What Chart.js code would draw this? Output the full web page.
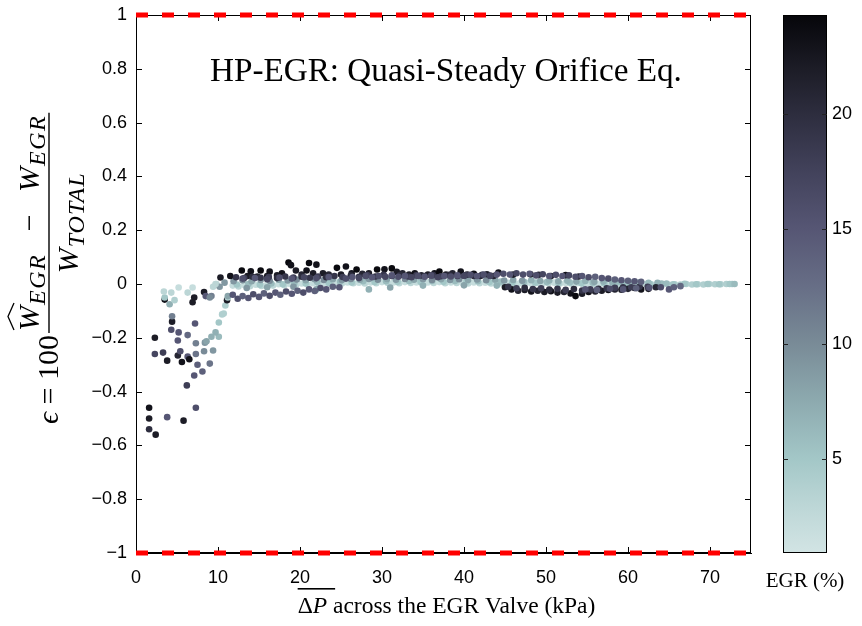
<!DOCTYPE html>
<html>
<head>
<meta charset="utf-8">
<script src="https://cdn.jsdelivr.net/npm/chart.js@4.4.1/dist/chart.umd.min.js"></script>
<style>
  html, body { margin: 0; padding: 0; background: #fff; }
  canvas { display: block; }
</style>
</head>
<body>
<canvas id="chart" width="862" height="626"></canvas>
<script>
// each point: [mean dP across valve (kPa), error (%), EGR (%)]
const lowFlow = [
  [1.6,-0.46,23],[1.6,-0.50,22],[1.6,-0.54,20],[2.4,-0.56,22],[3.8,-0.495,15],[5.8,-0.508,22],
  [7.3,-0.46,16],[6.2,-0.377,18],[2.3,-0.20,22],[2.3,-0.26,17],[3.3,-0.255,18],[3.8,-0.285,22],
  [5.1,-0.266,21],[5.6,-0.29,23],[5.4,-0.25,16],[6.3,-0.27,15],[6.5,-0.28,23],[7.3,-0.26,12],
  [7.5,-0.30,14],[8.1,-0.325,14],[7.1,-0.34,15],[9.0,-0.296,12],[8.3,-0.25,10],[9.4,-0.247,9],
  [7.3,-0.22,11],[8.4,-0.218,9],[8.6,-0.213,8],[9.2,-0.196,7],[10.1,-0.196,6],[6.3,-0.19,13],
  [5.1,-0.21,15],[5.2,-0.18,15],[4.3,-0.17,16],[4.4,-0.14,22],[4.4,-0.12,11],[7.2,-0.147,15],
  [9.7,-0.18,7],[10.1,-0.143,5],[10.5,-0.113,4],[10.7,-0.11,4],[10.9,-0.08,4],[11.1,-0.06,22],
  [11.2,-0.05,4],[11.2,-0.045,8],[3.5,-0.058,23],[3.5,-0.05,5],[4.1,-0.075,7],[4.7,-0.06,4],
  [3.4,-0.028,3],[4.3,-0.032,3],[5.2,-0.013,2],[6.3,-0.032,3],[6.9,-0.013,2],[7.1,-0.05,22],
  [6.9,-0.068,22],[8.3,-0.03,22],[8.5,-0.045,15],[9.2,-0.045,11],[9.0,-0.05,10],[9.4,-0.01,3],
  [9.8,0.0,3],[10.2,-0.01,9],[10.3,0.024,22],[10.8,0.005,9],[9.7,0.0,3]
];

const purpleLow = [
  [11.8,-0.040,15],[12.4,-0.055,16],[13.0,-0.045,14],[13.7,-0.052,15],[14.3,-0.038,16],[15.0,-0.048,15],
  [15.6,-0.035,14],[16.3,-0.044,16],[17.0,-0.032,15],[17.6,-0.040,14],[18.3,-0.028,16],[19.0,-0.036,15],
  [19.7,-0.025,14],[20.4,-0.032,16],[21.1,-0.020,15],[21.8,-0.026,14],[22.5,-0.015,16],[23.2,-0.020,15],
  [24.0,-0.010,14],[24.8,-0.012,15],
  [54.8,-0.020,15],[56.2,-0.022,14],[57.8,-0.018,16],[59.4,-0.020,15],[61.0,-0.016,14],[62.6,-0.014,15],
  [64.0,-0.012,16],[65.0,-0.020,15],[65.6,-0.012,14],[66.4,-0.008,13]
];

const purpleHigh = [
  [13.0,0.020,16],[14.5,0.022,15],[16.0,0.018,17],[17.5,0.024,16],[19.0,0.020,15],[20.5,0.025,17],
  [22.0,0.022,16],[23.5,0.026,15],[25.6,0.020,16],[26.4,0.026,15],[27.2,0.022,17],[28.0,0.030,16],
  [28.8,0.025,15],[29.6,0.030,16],[30.4,0.027,17],[31.2,0.032,15],[32.0,0.027,16],[32.8,0.030,15],
  [33.6,0.025,17],[34.4,0.030,16],[35.2,0.027,15],[36.0,0.031,16],[36.8,0.025,17],[37.6,0.030,15],
  [38.4,0.028,16],[39.2,0.032,15],[40.0,0.030,17],[40.8,0.034,16],[41.6,0.030,15],[42.4,0.035,16],
  [43.2,0.030,17],[44.0,0.035,15],[44.8,0.038,16],[45.6,0.035,15],[46.4,0.040,17],[47.2,0.035,16],
  [48.0,0.038,15],[48.8,0.032,16],[49.6,0.036,17],[50.4,0.030,15],[51.2,0.034,16],[52.0,0.030,15],
  [52.8,0.032,17],[53.6,0.027,16],[54.4,0.030,15],[55.2,0.025,16],[56.0,0.027,14],[56.8,0.022,15],
  [57.6,0.020,16],[58.4,0.017,14],[59.2,0.014,15],[60.0,0.012,14],[60.8,0.010,15],[61.6,0.008,14]
];

const darkPurple = [
  [12.2,0.025,19],[13.2,0.022,18],[14.2,0.027,20],[15.2,0.023,19],[16.2,0.026,18],[17.2,0.022,20],
  [18.2,0.028,19],[19.2,0.024,18],[20.2,0.027,20],[21.2,0.023,19],[22.2,0.028,18],[23.2,0.025,20],
  [24.2,0.030,19],[25.2,0.026,18],[26.2,0.031,20],[27.2,0.027,19],[28.2,0.033,18],[29.2,0.028,20],
  [30.2,0.034,19],[31.2,0.030,18],[32.2,0.033,20],[33.2,0.028,19],[34.2,0.032,18],[35.2,0.030,20],
  [36.2,0.033,19],[37.2,0.029,18],[38.2,0.034,20],[39.2,0.030,19],[40.2,0.033,18],[41.2,0.030,20],
  [42.2,0.034,19],[43.2,0.031,18],
  [45.4,-0.010,19],[46.4,-0.016,18],[47.4,-0.014,20],[48.4,-0.019,19],[49.4,-0.016,18],[50.4,-0.021,20],
  [51.4,-0.018,19],[52.4,-0.022,18],[53.4,-0.019,20],[54.4,-0.024,19],[55.4,-0.020,18],[56.4,-0.018,20],
  [57.4,-0.016,19],[58.4,-0.014,18],[59.4,-0.012,19],[60.4,-0.012,18],[61.4,-0.010,19],[62.4,-0.010,18]
];

const darkHigh = [
  [11.5,0.030,23],[12.9,0.050,24],[13.6,0.030,22],[14.0,0.047,23],[14.8,0.028,21],[15.2,0.050,24],
  [16.0,0.030,22],[16.3,0.046,23],[17.2,0.032,22],[17.8,0.040,23],[18.6,0.080,24],[18.9,0.070,23],
  [19.5,0.050,22],[20.2,0.035,21],[20.8,0.050,23],[21.1,0.078,24],[21.6,0.040,22],[22.0,0.072,23],
  [22.8,0.040,22],[23.5,0.035,21],[24.5,0.060,24],[25.0,0.035,22],[25.6,0.065,23],[26.3,0.040,22],
  [26.9,0.054,24],[27.6,0.038,21],[28.4,0.040,22],[29.4,0.054,24],[30.3,0.055,23],[31.2,0.058,24],
  [31.8,0.045,22],[32.5,0.040,21],[33.3,0.035,22],[34.0,0.040,23],[34.8,0.032,21],[35.6,0.035,22],
  [36.4,0.040,23],[37.0,0.046,24],[37.8,0.035,22],[38.6,0.040,21],[39.6,0.046,23],[40.4,0.035,22],
  [41.2,0.038,23],[42.0,0.030,21],[42.8,0.036,22],[43.6,0.030,21],[44.2,0.043,23],[46.0,0.035,22],
  [48.1,0.036,23],[49.1,0.034,21],[50.6,0.030,22],[52.4,0.033,23],[54.0,0.028,21]
];

const darkLow = [
  [45.0,-0.012,22],[45.8,-0.020,23],[46.6,-0.025,21],[47.4,-0.022,22],[48.2,-0.028,23],[49.0,-0.025,21],
  [49.8,-0.030,22],[50.6,-0.027,23],[51.4,-0.032,22],[52.2,-0.030,21],[53.0,-0.035,23],[53.6,-0.045,24],
  [54.4,-0.036,22],[55.2,-0.030,23],[56.0,-0.028,21],[56.8,-0.025,22],[57.6,-0.022,23],[58.4,-0.020,21],
  [59.2,-0.021,22],[60.0,-0.018,21],[60.8,-0.015,22],[61.6,-0.020,23],[62.5,-0.018,22],[63.4,-0.012,21]
];

const grayMid = [
  [11.9,0.010,9],[13.0,0.014,10],[14.1,0.010,8],[15.2,0.015,9],[16.3,0.012,10],[17.4,0.016,8],
  [18.5,0.013,9],[19.6,0.017,10],[20.7,0.014,8],[21.8,0.018,9],[22.9,0.015,10],[24.0,0.018,8],
  [25.1,0.015,9],[26.2,0.019,10],[27.3,0.016,8],[28.4,0.019,9],[29.5,0.016,10],[30.6,0.019,8],
  [31.7,0.016,9],[32.8,0.019,10],[33.9,0.016,8],[35.0,0.018,9],[36.1,0.015,10],[37.2,0.018,8],
  [38.3,0.015,9],[39.4,0.018,10],[40.5,0.015,8],[41.6,0.017,9],[42.7,0.014,10],[43.8,0.016,8],
  [44.9,0.013,9],[46.0,0.015,8],[47.1,0.012,9],[48.2,0.014,7],[49.3,0.011,8],[50.4,0.013,7],
  [51.5,0.010,8],[52.6,0.012,7],[53.7,0.009,8],[54.8,0.011,7],[55.9,0.008,8],[57.0,0.009,7],
  [58.1,0.006,7],[59.2,0.007,6],[60.3,0.005,7],[61.4,0.006,6],[62.5,0.004,6],[63.6,0.004,7],
  [64.7,0.002,6],
  [13.5,-0.015,9],[16.0,-0.012,8],[19.2,-0.010,9],[22.0,-0.020,8],[28.4,-0.020,7],[31.0,-0.013,8],
  [35.0,-0.006,7],[40.0,-0.005,8],[44.0,-0.006,7]
];

const lightMid = [
  [12.3,-0.002,5],[13.7,0.000,6],[15.1,-0.003,5],[16.5,0.002,6],[17.9,-0.001,5],[19.3,0.004,6],
  [20.7,0.002,5],[22.1,0.007,6],[23.5,0.004,5],[24.9,0.009,6],[26.3,0.006,5],[27.7,0.010,6],
  [29.1,0.007,5],[30.5,0.010,6],[31.9,0.008,5],[33.3,0.011,6],[34.7,0.008,5],[36.1,0.011,6],
  [37.5,0.008,5],[38.9,0.011,6],[40.3,0.008,5],[41.7,0.010,6],[43.1,0.007,5],[44.5,0.009,6],
  [45.9,0.006,5],[47.3,0.008,6],[48.7,0.005,5],[50.1,0.007,6],[51.5,0.004,5],[52.9,0.006,6],
  [54.3,0.003,5],[55.7,0.005,6],[57.1,0.002,5],[58.5,0.004,6],[59.9,0.001,5],[61.3,0.003,6],
  [62.7,0.000,5],[64.1,0.002,6],[65.5,-0.001,5],[66.9,0.001,5],[68.3,-0.001,5],[69.7,0.000,5],
  [71.1,-0.001,5],[72.4,0.000,5],[73.0,0.000,6]
];

const lightLow = [
  [11.8,-0.006,2],[12.5,-0.009,3],[13.2,-0.004,2],[13.9,-0.008,3],[14.6,-0.003,2],[15.3,-0.007,3],
  [16.0,-0.002,2],[16.7,-0.006,3],[17.4,-0.001,2],[18.1,-0.005,3],[18.8,0.000,2],[19.5,-0.004,3],
  [20.2,0.002,2],[20.9,-0.002,3],[21.6,0.003,2],[22.3,0.000,3],[23.0,0.004,2],[23.7,0.001,3],
  [24.4,0.005,2],[25.1,0.002,3],[25.8,0.006,2],[26.5,0.003,3],[27.2,0.005,2],[27.9,0.002,3],
  [28.6,0.006,2],[29.3,0.003,3],[30.0,0.007,2],[30.7,0.004,3],[31.4,0.006,2],[32.1,0.003,3],
  [32.8,0.007,2],[33.5,0.004,3],[34.2,0.006,2],[34.9,0.003,3],[35.6,0.006,2],[36.3,0.004,3],
  [37.0,0.007,2],[37.7,0.003,3],[38.4,0.006,2],[39.1,0.004,3],[39.8,0.005,2],[40.5,0.002,3],
  [41.2,0.006,2],[41.9,0.003,3],[42.6,0.005,2],[43.3,0.002,3],[44.0,0.004,2],[44.7,0.001,3],
  [45.4,0.004,2],[46.1,0.001,3],[46.8,0.003,2],[47.5,0.005,3],[48.2,0.002,2],[48.9,0.004,3],
  [49.6,0.001,2],[50.3,0.003,3],[51.0,0.005,2],[51.7,0.002,3],[52.4,0.004,2],[53.1,0.001,3],
  [53.8,0.003,2],[54.5,0.000,3],[55.2,0.002,2],[55.9,-0.001,3],[56.6,0.002,2],[57.3,0.000,3],
  [58.0,0.001,2],[58.7,-0.002,3],[59.4,0.001,2],[60.1,-0.001,3],[60.8,0.000,3],[61.5,-0.002,3],
  [62.2,0.000,3],[62.9,-0.002,3],[63.6,0.000,3],[64.3,-0.001,3],[65.0,-0.003,3],[65.7,-0.001,4],
  [66.4,-0.002,4],[67.1,0.000,4],[67.8,-0.002,4],[68.5,-0.001,4],[69.2,-0.002,4],[69.9,0.000,4],
  [70.6,-0.001,4],[71.3,-0.001,4],[72.0,0.000,4],[72.7,0.000,5]
];

const xTicks = [0, 10, 20, 30, 40, 50, 60, 70];
const yTicks = [-1, -0.8, -0.6, -0.4, -0.2, 0, 0.2, 0.4, 0.6, 0.8, 1];
const cbTicks = [5, 10, 15, 20];
const egrMin = 0.9, egrMax = 24.3;
const boundLines = [-1, 1];

// colour map of the colour bar, EGR value -> rgb
const cmapStops = [
  [0.9, [210, 228, 228]], [3, [188, 214, 214]], [5, [163, 199, 199]], [7.5, [141, 170, 175]],
  [10, [121, 139, 151]], [12.5, [103, 110, 134]], [15, [86, 86, 116]], [17.5, [66, 66, 91]],
  [20, [45, 45, 62]], [22, [28, 28, 38]], [24.3, [6, 6, 10]]
];

function egrColor(v) {
  if (v <= cmapStops[0][0]) return 'rgb(' + cmapStops[0][1].join(',') + ')';
  for (let i = 1; i < cmapStops.length; i++) {
    const [v1, c1] = cmapStops[i];
    const [v0, c0] = cmapStops[i - 1];
    if (v <= v1) {
      const t = (v - v0) / (v1 - v0);
      const c = c0.map((a, k) => Math.round(a + (c1[k] - a) * t));
      return 'rgb(' + c.join(',') + ')';
    }
  }
  return 'rgb(' + cmapStops[cmapStops.length - 1][1].join(',') + ')';
}

const groups = [purpleLow, purpleHigh, darkPurple, darkLow, darkHigh, grayMid, lightMid, lightLow, lowFlow];

const datasets = groups.map(g => ({
  type: 'scatter',
  data: g.map(p => ({ x: p[0], y: p[1] })),
  backgroundColor: g.map(p => egrColor(p[2])),
  borderWidth: 0,
  pointRadius: 3.3,
  pointHoverRadius: 3.3,
  yAxisID: 'y'
}));

boundLines.forEach(v => {
  datasets.push({
    type: 'line',
    data: [{ x: 0, y: v }, { x: 75, y: v }],
    borderColor: '#ff0000',
    borderWidth: 5,
    borderDash: [12, 14],
    pointRadius: 0,
    fill: false,
    clip: false,
    yAxisID: 'y'
  });
});

const tickFont = { family: '"Liberation Sans", Arial, sans-serif', size: 18 };
const serif = '"Liberation Serif", "DejaVu Serif", serif';

function noPad(s) {
  s.paddingTop = 0; s.paddingBottom = 0; s.paddingLeft = 0; s.paddingRight = 0;
}

function inwardTicks(ctx, chart) {
  const a = chart.chartArea, xs = chart.scales.x, ys = chart.scales.y;
  ctx.save();
  ctx.strokeStyle = '#000';
  ctx.lineWidth = 1;
  ctx.beginPath();
  xTicks.forEach(v => {
    const px = Math.round(xs.getPixelForValue(v)) + 0.5;
    ctx.moveTo(px, a.bottom); ctx.lineTo(px, a.bottom - 6);
    ctx.moveTo(px, a.top); ctx.lineTo(px, a.top + 6);
  });
  yTicks.forEach(v => {
    const py = Math.round(ys.getPixelForValue(v)) + 0.5;
    ctx.moveTo(a.left, py); ctx.lineTo(a.left + 6, py);
    ctx.moveTo(a.right, py); ctx.lineTo(a.right - 6, py);
  });
  ctx.stroke();
  ctx.strokeRect(Math.round(a.left) + 0.5, Math.round(a.top) + 0.5,
    Math.round(a.right - a.left) - 1, Math.round(a.bottom - a.top) - 1);
  ctx.restore();
}

function drawColorbar(ctx, chart) {
  const cb = chart.scales.cb;
  const left = cb.left + 32, w = 44;
  const top = cb.getPixelForValue(egrMax), bottom = cb.getPixelForValue(egrMin);
  const grad = ctx.createLinearGradient(0, bottom, 0, top);
  cmapStops.forEach(([v, c]) => grad.addColorStop((v - egrMin) / (egrMax - egrMin), 'rgb(' + c.join(',') + ')'));
  ctx.save();
  ctx.fillStyle = grad;
  ctx.fillRect(left, top, w, bottom - top);
  ctx.strokeStyle = '#000';
  ctx.lineWidth = 1;
  ctx.strokeRect(left + 0.5, Math.round(top) + 0.5, w - 1, Math.round(bottom - top) - 1);
  ctx.strokeStyle = '#222';
  ctx.beginPath();
  cbTicks.forEach(v => {
    const py = Math.round(cb.getPixelForValue(v)) + 0.5;
    ctx.moveTo(left, py); ctx.lineTo(left + 5, py);
    ctx.moveTo(left + w, py); ctx.lineTo(left + w - 5, py);
  });
  ctx.stroke();
  ctx.fillStyle = '#000';
  ctx.font = '21px ' + serif;
  ctx.textBaseline = 'alphabetic';
  ctx.textAlign = 'center';
  ctx.fillText('EGR (%)', left + w / 2, 587);
  ctx.restore();
}

// draws a run of [text, font, dy, spacing] pieces along the current x, returns the end x
function drawRun(ctx, pieces, x0, y0, measureOnly) {
  let x = x0;
  pieces.forEach(([t, f, dy, sp]) => {
    ctx.font = f;
    ctx.letterSpacing = (sp || 0) + 'px';
    if (!measureOnly) ctx.fillText(t, x, y0 + (dy || 0));
    x += ctx.measureText(t).width;
    ctx.letterSpacing = '0px';
  });
  return x;
}

function drawYLabel(ctx) {
  const big = '30px ' + serif, it = 'italic 30px ' + serif, sub = 'italic 24px ' + serif;
  ctx.save();
  ctx.translate(49, 284);
  ctx.rotate(-Math.PI / 2);
  ctx.fillStyle = '#000';
  ctx.strokeStyle = '#000';
  ctx.textBaseline = 'alphabetic';
  ctx.textAlign = 'left';
  const lead = [['\u03f5', it], [' = ', big], ['100', big]];
  const xStart = -140;
  const xFrac = drawRun(ctx, lead, xStart, 9) + 2;
  const num = [['W', it, 0, 1], ['EGR', sub, 6, 1.5], ['   \u2212   ', big], ['W', it, 0, 1], ['EGR', sub, 6, 1.5]];
  const den = [['W', it, 0, 1], ['TOTAL', sub, 6, 1]];
  const wNum = drawRun(ctx, num, 0, 0, true);
  const wDen = drawRun(ctx, den, 0, 0, true);
  const barLen = Math.max(wNum, wDen) + 4;
  ctx.lineWidth = 1.4;
  ctx.beginPath();
  ctx.moveTo(xFrac, 0); ctx.lineTo(xFrac + barLen, 0);
  ctx.stroke();
  const nx = xFrac + (barLen - wNum) / 2;
  drawRun(ctx, num, nx, -10);
  // wide hat over the first W
  ctx.font = it;
  const wW = ctx.measureText('W').width;
  ctx.lineWidth = 1.3;
  ctx.beginPath();
  ctx.moveTo(nx + 1, -35);
  ctx.lineTo(nx + wW / 2 + 2, -41);
  ctx.lineTo(nx + wW + 3, -35);
  ctx.stroke();
  drawRun(ctx, den, xFrac + (barLen - wDen) / 2, 29);
  ctx.restore();
}

const decor = {
  id: 'decor',
  beforeDatasetsDraw(chart) {
    inwardTicks(chart.ctx, chart);
  },
  afterDraw(chart) {
    const ctx = chart.ctx;
    const a = chart.chartArea;
    drawColorbar(ctx, chart);
    ctx.save();
    ctx.fillStyle = '#000';
    ctx.textBaseline = 'alphabetic';
    // title inside the axes
    ctx.font = '100px ' + serif;
    const title = 'HP-EGR: Quasi-Steady Orifice Eq.';
    const fs = 100 * 472 / ctx.measureText(title).width;
    ctx.font = fs.toFixed(1) + 'px ' + serif;
    ctx.textAlign = 'left';
    ctx.fillText(title, 210, 81);
    // x axis title with overline on delta P
    const f = '23.5px ' + serif;
    const xt = [['\u0394', f], ['P', 'italic ' + f], [' across the EGR Valve (kPa)', f]];
    const wx = drawRun(ctx, xt, 0, 0, true);
    const x0 = (a.left + a.right) / 2 - wx / 2 + 3;
    drawRun(ctx, xt, x0, 613);
    ctx.font = f;
    const wdp = ctx.measureText('\u0394').width;
    ctx.font = 'italic ' + f;
    const wp = ctx.measureText('P').width;
    ctx.fillRect(x0, 588, wdp + wp + 8, 1.6);
    ctx.restore();
    drawYLabel(ctx);
  }
};

new Chart(document.getElementById('chart'), {
  type: 'scatter',
  data: { datasets },
  options: {
    responsive: false,
    animation: false,
    events: [],
    layout: { padding: { top: 15, left: 0, right: 0, bottom: 0 } },
    plugins: { legend: { display: false }, tooltip: { enabled: false } },
    scales: {
      x: {
        type: 'linear', min: 0, max: 75,
        afterBuildTicks: s => { s.ticks = xTicks.map(v => ({ value: v })); },
        afterFit: s => { s.height = 73; noPad(s); },
        grid: { display: false, drawTicks: false },
        border: { display: true, color: '#000', width: 1 },
        ticks: { font: tickFont, color: '#000', padding: 14, maxRotation: 0 }
      },
      y: {
        type: 'linear', min: -1, max: 1,
        afterBuildTicks: s => { s.ticks = yTicks.map(v => ({ value: v })); },
        afterFit: s => { s.width = 136; noPad(s); },
        grid: { display: false, drawTicks: false },
        border: { display: true, color: '#000', width: 1 },
        ticks: {
          font: tickFont, color: '#000', padding: 9,
          callback: v => String(v).replace('-', '\u2212')
        }
      },
      cb: {
        type: 'linear', position: 'right', min: egrMin, max: egrMax,
        afterBuildTicks: s => { s.ticks = cbTicks.map(v => ({ value: v })); },
        afterFit: s => { s.width = 111; noPad(s); },
        grid: { display: false, drawTicks: false },
        border: { display: false },
        ticks: { font: tickFont, color: '#000', padding: 81 }
      }
    }
  },
  plugins: [decor]
});
</script>
</body>
</html>
